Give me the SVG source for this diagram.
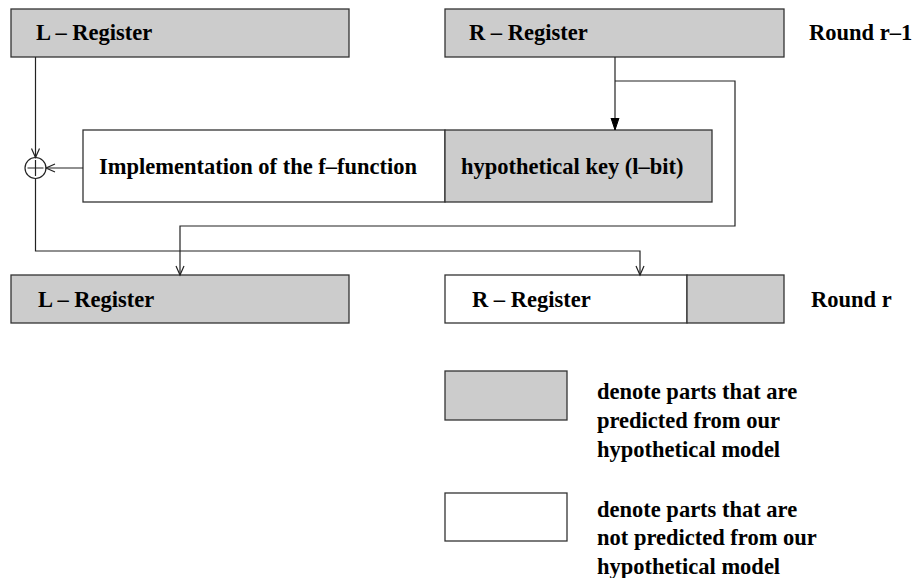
<svg xmlns="http://www.w3.org/2000/svg" width="913" height="578" viewBox="0 0 913 578">
<style>
.g{fill:#cccccc;stroke:#333333;stroke-width:1.3}
.w{fill:#ffffff;stroke:#333333;stroke-width:1.3}
.t{font-family:"Liberation Serif","Times New Roman",serif;font-weight:bold;font-size:22.5px;fill:#000}
.c{fill:none;stroke:#222;stroke-width:1.2}
</style>
<defs>
<marker id="open" markerUnits="userSpaceOnUse" markerWidth="12" markerHeight="12" viewBox="-10 -6 12 12" refX="0" refY="0" orient="auto">
<path d="M-9,-4 L0,0 L-9,4" fill="none" stroke="#222" stroke-width="1.2"/>
</marker>
<marker id="fill" markerUnits="userSpaceOnUse" markerWidth="14" markerHeight="12" viewBox="-12 -6 14 12" refX="0" refY="0" orient="auto">
<path d="M-12,-4 L0,0 L-12,4 Z" fill="#000" stroke="#000" stroke-width="1"/>
</marker>
</defs>
<g id="L-top"><rect class="g" x="11" y="9" width="338" height="48"/><text class="t" x="36" y="40">L – Register</text></g>
<g id="R-top"><rect class="g" x="445" y="9" width="339" height="48"/><text class="t" x="469" y="40">R – Register</text></g>
<g id="round-r1"><text class="t" x="809" y="40">Round r–1</text></g>
<g id="ffunc"><rect class="w" x="83" y="130" width="362" height="72"/><text class="t" x="99" y="174">Implementation of the f–function</text></g>
<g id="key"><rect class="g" x="445" y="130" width="267" height="72"/><text class="t" x="461" y="174">hypothetical key (l–bit)</text></g>
<g id="xor"><circle cx="35.5" cy="168" r="10.5" fill="none" stroke="#222" stroke-width="1.2"/><path d="M27.5,168 H43.5 M35.5,160 V176" stroke="#222" stroke-width="1.2"/></g>
<g id="L-bot"><rect class="g" x="11" y="275" width="338" height="48"/><text class="t" x="38" y="307">L – Register</text></g>
<g id="R-bot"><rect class="w" x="445" y="275" width="242" height="48"/><rect class="g" x="687" y="275" width="97" height="48"/><text class="t" x="472" y="307">R – Register</text></g>
<g id="round-r"><text class="t" x="811" y="307">Round r</text></g>
<g id="legend-gray"><rect class="g" x="445" y="371" width="122" height="49"/><text class="t" x="597" y="399">denote parts that are</text><text class="t" x="597" y="428">predicted from our</text><text class="t" x="597" y="457">hypothetical model</text></g>
<g id="legend-white"><rect class="w" x="445" y="493" width="122" height="48"/><text class="t" x="597" y="517">denote parts that are</text><text class="t" x="597" y="545">not predicted from our</text><text class="t" x="597" y="574">hypothetical model</text></g>
<g id="connectors">
<path class="c" d="M35.5,57 V157.5" marker-end="url(#open)"/>
<path class="c" d="M83,168 H46" marker-end="url(#open)"/>
<path class="c" d="M35.5,178.5 V251 H640 V275" marker-end="url(#open)"/>
<path class="c" d="M615,57 V130" marker-end="url(#fill)"/>
<path class="c" d="M615,81 H735 V226 H180 V275" marker-end="url(#open)"/>
</g>
</svg>
